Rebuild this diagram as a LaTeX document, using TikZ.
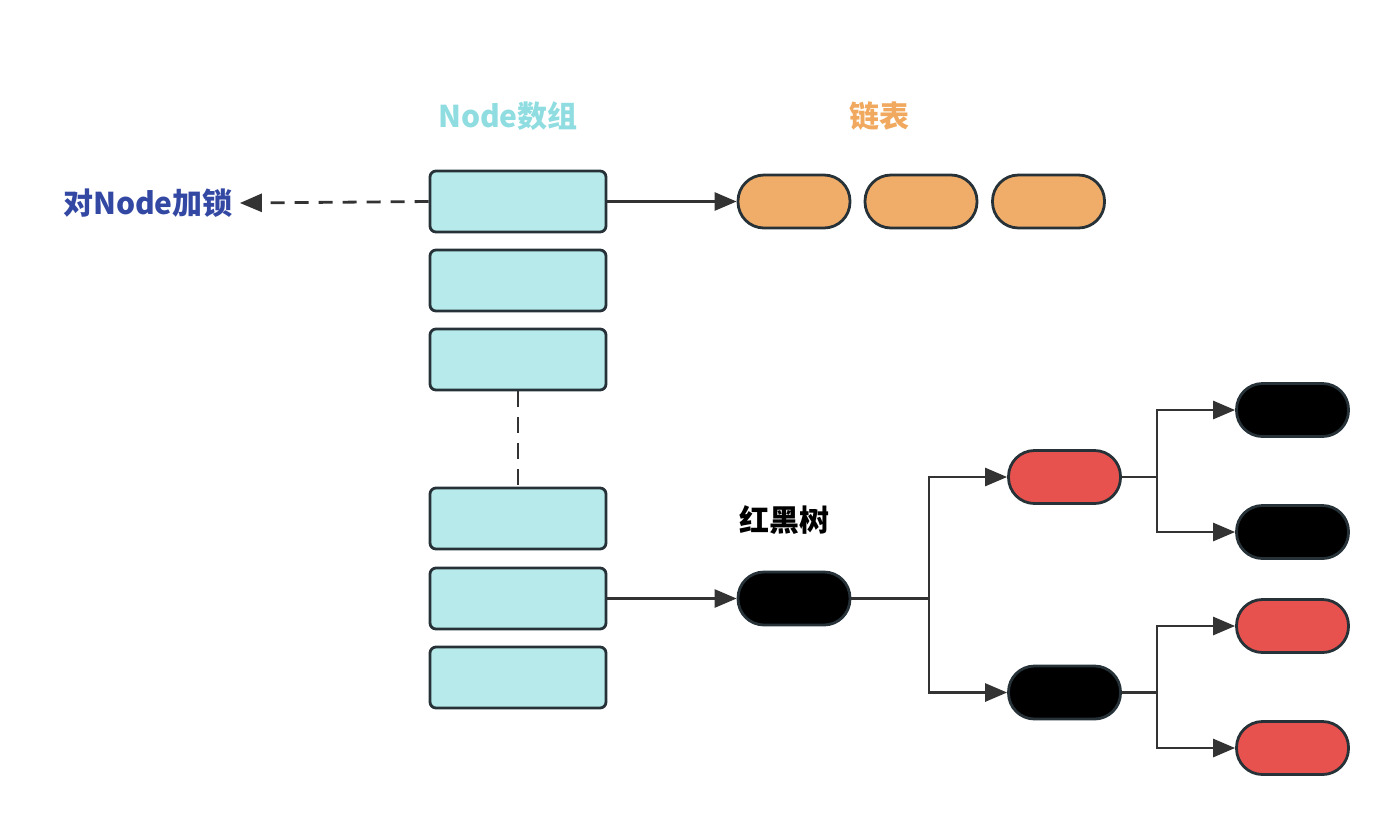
\documentclass[tikz,border=0pt]{standalone}
\usepackage{fontspec}
\newfontfamily\cjk{Noto Sans CJK SC}
\usetikzlibrary{arrows.meta}
\definecolor{cellfill}{HTML}{B7EAEA}
\definecolor{listfill}{HTML}{F0AD6A}
\definecolor{redfill}{HTML}{E8524E}
\definecolor{edge}{HTML}{263238}
\definecolor{wire}{HTML}{333333}
\definecolor{locktext}{HTML}{3348A3}
\definecolor{arraytext}{HTML}{8FDDE0}
\definecolor{listtext}{HTML}{F0A95E}
\tikzset{
  cell/.style={draw=edge, line width=1.4pt, fill=cellfill, rounded corners=3pt,
    minimum width=88pt, minimum height=30.5pt, inner sep=0pt},
  pill/.style={draw=edge, line width=1.4pt, rounded corners=13pt,
    minimum width=56pt, minimum height=26.5pt, inner sep=0pt},
  link/.style={draw=wire, line width=1.4pt},
  title/.style={font=\cjk\bfseries\fontsize{15pt}{18pt}\selectfont}
}
\begin{document}
\begin{tikzpicture}[x=0.5pt, y=-0.5pt, >={Triangle[length=11pt,width=9pt]}]
  \useasboundingbox (0,0) rectangle (1400,826);
  % Titles
  \node[title, text=arraytext] (arrlbl) at (508,116) {Node数组};
  \node[title, text=listtext] (listlbl) at (879,116) {链表};
  \node[title, text=black] (treelbl) at (784,520) {红黑树};
  \node[title, text=locktext] (locklbl) at (148,203) {对Node加锁};
  % Node array
  \foreach \i/\y in {1/201.5, 2/280.5, 3/359.5, 4/518.5, 5/598.5, 6/677.5}
    \node[cell] (c\i) at (518,\y) {};
  \draw[link, dash pattern=on 8pt off 5pt] (c3.south) -- (c4.north);
  \draw[link, dash pattern=on 7pt off 5pt, ->] (c1.west) -- (locklbl.east);
  % Linked list
  \node[pill, fill=listfill] (l1) at (794,201.5) {};
  \node[pill, fill=listfill] (l2) at (921,201.5) {};
  \node[pill, fill=listfill] (l3) at (1048.5,201.5) {};
  \draw[link, ->] (c1.east) -- (l1.west);
  % Red-black tree
  \node[pill, fill=black] (root) at (794,598.5) {};
  \node[pill, fill=redfill] (a) at (1064.5,477) {};
  \node[pill, fill=black] (b) at (1064.5,692.5) {};
  \node[pill, fill=black] (aa) at (1292.5,410) {};
  \node[pill, fill=black] (ab) at (1292.5,532) {};
  \node[pill, fill=redfill] (ba) at (1292.5,626) {};
  \node[pill, fill=redfill] (bb) at (1292.5,748) {};
  \coordinate (f0) at (929,598.5);
  \coordinate (fa) at (1157,477);
  \coordinate (fb) at (1157,692.5);
  \draw[link, ->] (c5.east) -- (root.west);
  \draw[link] (root.east) -- (f0);
  \draw[link, ->] (f0) |- (a.west);
  \draw[link, ->] (f0) |- (b.west);
  \draw[link] (a.east) -- (fa);
  \draw[link, ->] (fa) |- (aa.west);
  \draw[link, ->] (fa) |- (ab.west);
  \draw[link] (b.east) -- (fb);
  \draw[link, ->] (fb) |- (ba.west);
  \draw[link, ->] (fb) |- (bb.west);
\end{tikzpicture}
\end{document}
